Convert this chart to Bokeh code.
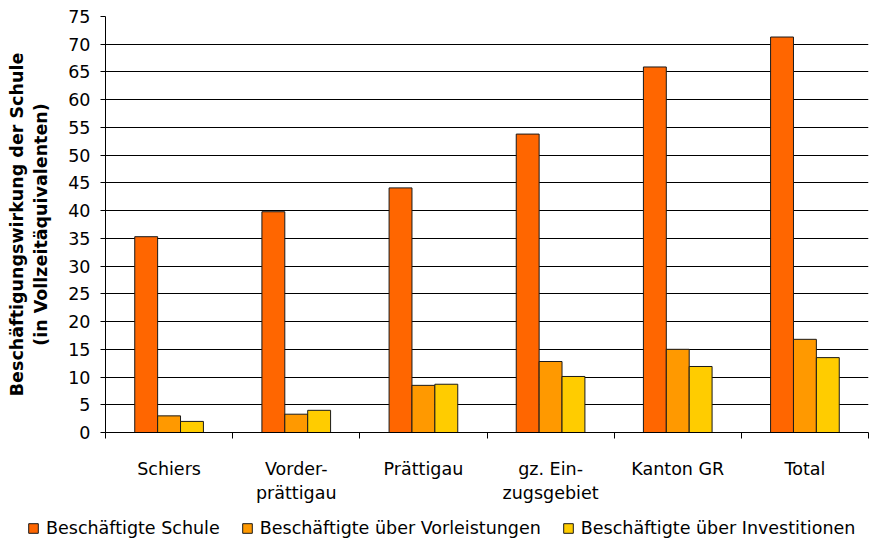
from bokeh.plotting import figure
from bokeh.models import FixedTicker, Range1d, Legend, LegendItem, ColumnDataSource
from bokeh.layouts import column
from bokeh.embed import file_html
from bokeh.resources import INLINE
import numpy as np

categories = ["Schiers", "Vorder-\nprättigau", "Prättigau", "gz. Ein-\nzugsgebiet", "Kanton GR", "Total"]
schule = [35.3, 39.8, 44.1, 53.8, 65.9, 71.3]
vorleistungen = [3.0, 3.3, 8.5, 12.8, 15.0, 16.8]
investitionen = [2.0, 4.0, 8.7, 10.1, 11.9, 13.5]
series_names = ["Beschäftigte Schule", "Beschäftigte über Vorleistungen", "Beschäftigte über Investitionen"]
colors = ["#FF6600", "#FF9900", "#FFCC00"]
y_ticks = list(range(0, 80, 5))
y_label = "Beschäftigungswirkung der Schule\n(in Vollzeitäquivalenten)"

FONT = "DejaVu Sans"
FS = "17.5px"
EDGE = "#1a1a1a"

p = figure(width=870, height=505, x_range=Range1d(0, len(categories)), y_range=Range1d(0, 75),
           output_backend="svg", toolbar_location=None,
           min_border_left=105, min_border_right=2, min_border_top=16, min_border_bottom=72)
p.outline_line_color = None
p.background_fill_color = "white"
p.frame_align = False

centers = np.arange(len(categories)) + 0.5
bw = 0.18
offsets = [-bw, 0.0, bw]
sources = []
for vals, col, off in zip([schule, vorleistungen, investitionen], colors, offsets):
    src = ColumnDataSource(dict(x=centers + off, top=vals))
    sources.append(src)
    p.vbar(x="x", top="top", bottom=0, width=bw, source=src,
           fill_color=col, line_color=EDGE, line_width=1)

# grid
p.xgrid.visible = False
p.ygrid.grid_line_color = "black"
p.ygrid.grid_line_width = 1
p.ygrid.ticker = FixedTicker(ticks=y_ticks)

# y axis
ya = p.yaxis[0]
ya.ticker = FixedTicker(ticks=y_ticks, minor_ticks=[])
ya.axis_line_color = "black"
ya.major_tick_line_color = "black"
ya.major_tick_out = 5
ya.major_tick_in = 0
ya.minor_tick_line_color = None
ya.major_label_standoff = 10
ya.major_label_text_font = FONT
ya.major_label_text_font_size = FS
ya.major_label_text_color = "black"
ya.axis_label = y_label
ya.axis_label_text_font = FONT
ya.axis_label_text_font_size = FS
ya.axis_label_text_font_style = "bold"
ya.axis_label_text_color = "black"
ya.axis_label_standoff = 14

# x axis
xa = p.xaxis[0]
xa.ticker = FixedTicker(ticks=list(centers), minor_ticks=list(range(len(categories) + 1)))
xa.major_label_overrides = {float(c): lab for c, lab in zip(centers, categories)}
xa.axis_line_color = "black"
xa.major_tick_out = 0
xa.major_tick_in = 0
xa.minor_tick_out = 6
xa.minor_tick_in = 0
xa.minor_tick_line_color = "black"
xa.major_label_standoff = 20
xa.major_label_text_font = FONT
xa.major_label_text_font_size = FS
xa.major_label_text_color = "black"

# legend strip (same data; its x range lies far from the bars so they stay out of view)
lg = figure(width=870, height=35, output_backend="svg", toolbar_location=None,
            min_border=0, x_range=Range1d(-40, -39), y_range=Range1d(0, 75))
lg.frame_align = False
lg.axis.visible = False
lg.grid.visible = False
lg.outline_line_color = None
items = []
for name, col, src in zip(series_names, colors, sources):
    r = lg.vbar(x="x", top="top", bottom=0, width=bw, source=src,
                fill_color=col, line_color=EDGE, line_width=1)
    items.append(LegendItem(label=name, renderers=[r]))
legend = Legend(items=items, orientation="horizontal", location=(27, 2),
                label_text_font=FONT, label_text_font_size=FS, label_text_color="black",
                glyph_width=12, glyph_height=12, label_standoff=7, spacing=21,
                padding=0, margin=0, border_line_color=None, background_fill_alpha=0)
lg.add_layout(legend, "center")

layout = column(p, lg, spacing=0)
open("out.html", "w").write(file_html(layout, INLINE))
